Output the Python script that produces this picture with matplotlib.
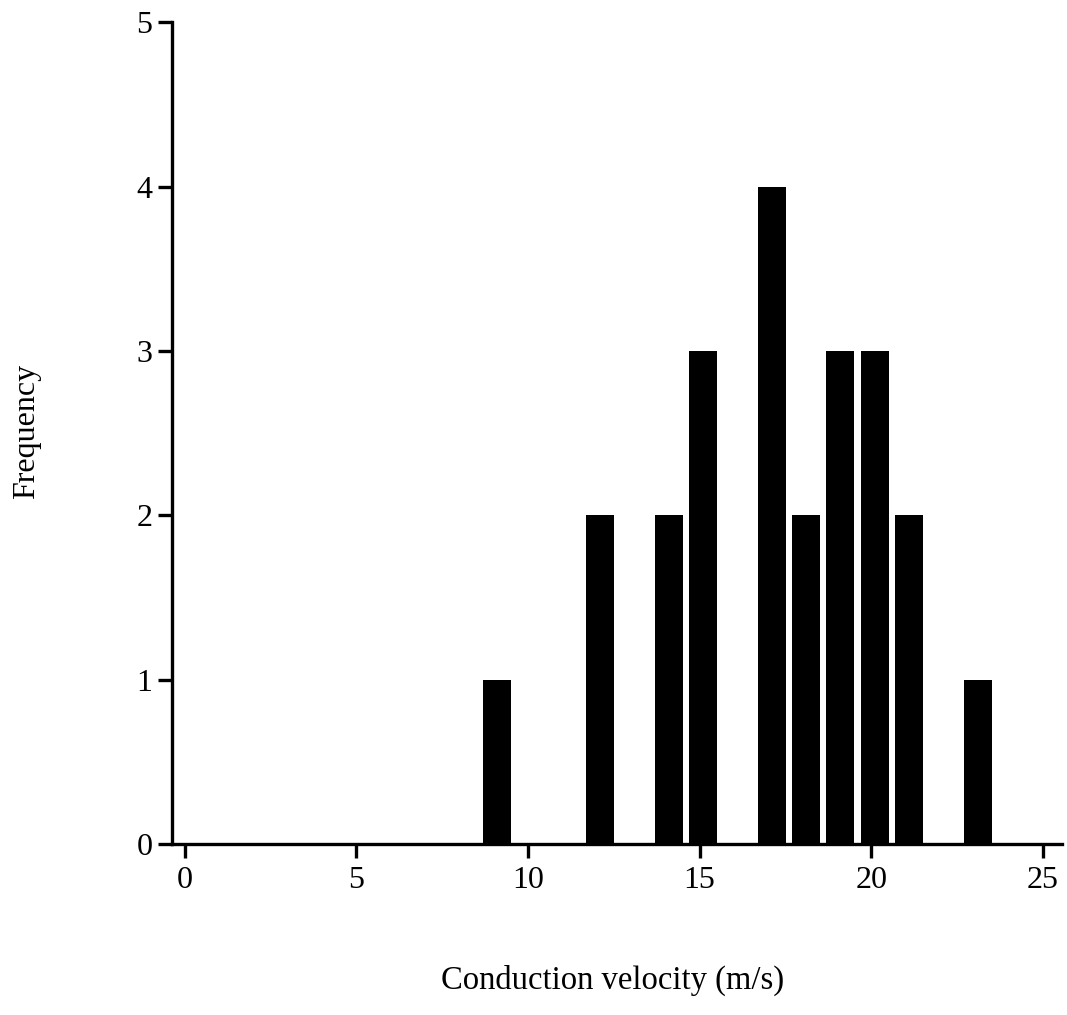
import matplotlib.pyplot as plt

# conduction velocity histogram (m/s), one bar per 1 m/s bin
velocity = [9, 12, 14, 15, 17, 18, 19, 20, 21, 23]
frequency = [1, 2, 2, 3, 4, 2, 3, 3, 2, 1]
x_ticks = [0, 5, 10, 15, 20, 25]
y_ticks = [0, 1, 2, 3, 4, 5]

plt.rcParams['font.family'] = ['Liberation Serif', 'DejaVu Serif']

fig = plt.figure(figsize=(10.67, 10.15), dpi=100)
ax = fig.add_axes([0.161, 0.1685, 0.834, 0.8095])

# bars sit a little to the right of the bin value
bar_shift = 0.1
ax.bar([v + bar_shift for v in velocity], frequency, width=0.82, color='black', align='center')

ax.set_xlim(-0.38, 25.55)
ax.set_ylim(0, 5)
ax.set_xticks(x_ticks)
ax.set_yticks(y_ticks)

for side in ['top', 'right']:
    ax.spines[side].set_visible(False)
for side in ['left', 'bottom']:
    ax.spines[side].set_linewidth(2.4)

ax.tick_params(axis='x', direction='out', length=10, width=2.4, pad=6, labelsize=23)
ax.tick_params(axis='y', direction='out', length=10, width=2.4, pad=4, labelsize=23)

fig.text(0.574, 0.034, 'Conduction velocity (m/s)', ha='center', va='center', fontsize=23.5)
fig.text(0.025, 0.575, 'Frequency', ha='center', va='center', rotation=90, fontsize=23)

fig.savefig('out.png', dpi=100)
